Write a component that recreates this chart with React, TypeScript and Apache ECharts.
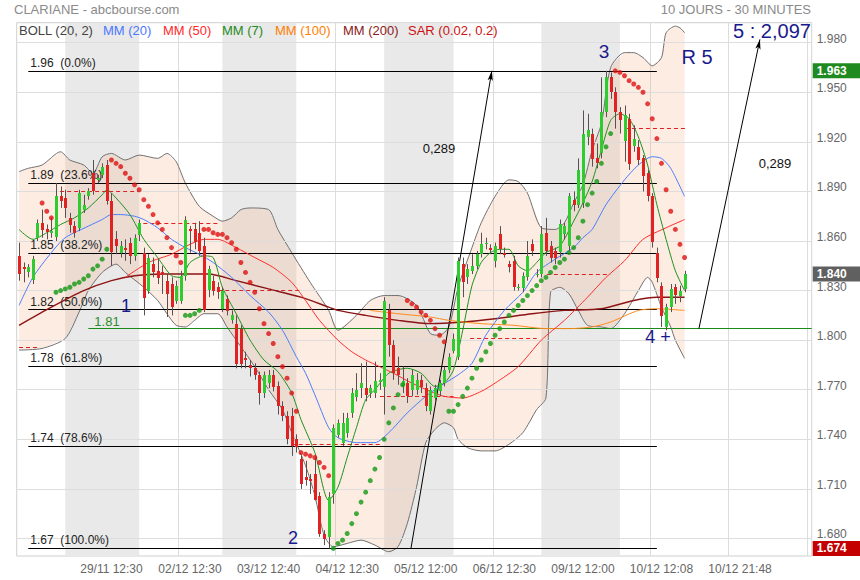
import React, { useEffect, useRef } from 'react';
import * as echarts from 'echarts';

const FONT = '"Liberation Sans", Arial, Helvetica, sans-serif';
const CATEGORY_COUNT = 172;
const Y_MIN = 1.6694;
const Y_MAX = 1.9921;

// x axis ticks
const xTickIndex = [20, 37, 54, 71, 88, 105, 122, 139, 156];
const xTickLabels = ['29/11 12:30', '02/12 12:30', '03/12 12:40', '04/12 12:30', '05/12 12:00', '06/12 12:30', '09/12 12:00', '10/12 12:08', '10/12 21:48'];
const xGridStart = 18;
const xGridStep = 17;
const yTicks = [1.68, 1.71, 1.74, 1.77, 1.8, 1.83, 1.86, 1.89, 1.92, 1.95, 1.98];

// alternate trading days (bar index ranges)
const dayBands = [[10, 26], [44, 60], [79, 94], [113, 130]];

// 30-minute candles: [open, close, low, high]
const ohlc: number[][] = [
  [1.851, 1.840, 1.836, 1.859], [1.844, 1.843, 1.835, 1.847], [1.841, 1.844, 1.838, 1.846], [1.836, 1.849, 1.834, 1.851],
  [1.862, 1.871, 1.860, 1.873], [1.871, 1.867, 1.862, 1.879], [1.867, 1.865, 1.861, 1.870], [1.865, 1.866, 1.862, 1.874],
  [1.862, 1.887, 1.860, 1.895], [1.887, 1.884, 1.880, 1.893], [1.886, 1.880, 1.874, 1.891], [1.874, 1.870, 1.865, 1.877],
  [1.869, 1.865, 1.862, 1.872], [1.868, 1.889, 1.866, 1.891], [1.879, 1.882, 1.877, 1.888], [1.887, 1.890, 1.885, 1.892],
  [1.901, 1.890, 1.888, 1.909], [1.897, 1.898, 1.895, 1.900], [1.900, 1.905, 1.898, 1.907], [1.906, 1.884, 1.882, 1.909],
  [1.884, 1.853, 1.845, 1.889], [1.861, 1.857, 1.852, 1.866], [1.853, 1.857, 1.850, 1.860], [1.856, 1.855, 1.848, 1.861],
  [1.859, 1.851, 1.846, 1.862], [1.851, 1.862, 1.848, 1.864], [1.864, 1.871, 1.860, 1.873], [1.853, 1.826, 1.815, 1.856],
  [1.830, 1.850, 1.828, 1.852], [1.846, 1.841, 1.838, 1.850], [1.842, 1.838, 1.834, 1.849], [1.841, 1.839, 1.828, 1.845],
  [1.836, 1.828, 1.814, 1.840], [1.834, 1.820, 1.815, 1.838], [1.824, 1.833, 1.822, 1.836], [1.824, 1.839, 1.822, 1.842],
  [1.839, 1.873, 1.836, 1.875], [1.867, 1.866, 1.853, 1.869], [1.867, 1.859, 1.855, 1.871], [1.865, 1.854, 1.851, 1.872],
  [1.857, 1.818, 1.817, 1.862], [1.830, 1.843, 1.826, 1.845], [1.836, 1.830, 1.827, 1.839], [1.832, 1.829, 1.825, 1.835],
  [1.819, 1.830, 1.817, 1.832], [1.825, 1.818, 1.815, 1.827], [1.812, 1.815, 1.810, 1.818], [1.810, 1.786, 1.783, 1.815],
  [1.807, 1.786, 1.783, 1.809], [1.789, 1.788, 1.783, 1.793], [1.785, 1.783, 1.778, 1.788], [1.783, 1.779, 1.776, 1.786],
  [1.779, 1.768, 1.761, 1.781], [1.768, 1.779, 1.765, 1.781], [1.774, 1.779, 1.771, 1.782], [1.779, 1.772, 1.769, 1.782],
  [1.772, 1.760, 1.755, 1.775], [1.760, 1.754, 1.751, 1.763], [1.754, 1.740, 1.737, 1.757], [1.754, 1.736, 1.730, 1.759],
  [1.740, 1.735, 1.732, 1.743], [1.728, 1.713, 1.710, 1.730], [1.717, 1.715, 1.712, 1.727], [1.716, 1.715, 1.707, 1.719],
  [1.719, 1.703, 1.703, 1.729], [1.706, 1.683, 1.681, 1.708], [1.683, 1.680, 1.676, 1.685], [1.681, 1.705, 1.674, 1.708],
  [1.707, 1.747, 1.701, 1.749], [1.743, 1.750, 1.741, 1.752], [1.738, 1.750, 1.736, 1.756], [1.744, 1.753, 1.741, 1.756],
  [1.756, 1.768, 1.753, 1.771], [1.766, 1.770, 1.763, 1.780], [1.771, 1.774, 1.765, 1.786], [1.771, 1.767, 1.763, 1.787],
  [1.768, 1.771, 1.765, 1.773], [1.768, 1.775, 1.765, 1.787], [1.775, 1.776, 1.770, 1.780], [1.772, 1.824, 1.755, 1.826],
  [1.818, 1.797, 1.790, 1.822], [1.797, 1.780, 1.776, 1.800], [1.783, 1.779, 1.773, 1.790], [1.772, 1.775, 1.768, 1.784],
  [1.774, 1.766, 1.762, 1.777], [1.770, 1.779, 1.766, 1.782], [1.770, 1.776, 1.767, 1.780], [1.776, 1.772, 1.768, 1.779],
  [1.771, 1.760, 1.757, 1.774], [1.757, 1.770, 1.755, 1.772], [1.765, 1.771, 1.763, 1.773], [1.769, 1.774, 1.766, 1.776],
  [1.774, 1.782, 1.772, 1.784], [1.782, 1.790, 1.780, 1.792], [1.794, 1.801, 1.792, 1.804], [1.790, 1.848, 1.788, 1.850],
  [1.846, 1.835, 1.826, 1.850], [1.838, 1.843, 1.834, 1.846], [1.842, 1.845, 1.840, 1.852], [1.845, 1.852, 1.843, 1.854],
  [1.852, 1.858, 1.850, 1.865], [1.859, 1.859, 1.855, 1.862], [1.856, 1.855, 1.852, 1.858], [1.848, 1.857, 1.844, 1.859],
  [1.864, 1.855, 1.852, 1.869], [1.853, 1.852, 1.850, 1.856], [1.846, 1.844, 1.841, 1.848], [1.848, 1.832, 1.830, 1.851],
  [1.832, 1.832, 1.830, 1.834], [1.832, 1.839, 1.829, 1.841], [1.838, 1.851, 1.836, 1.860], [1.858, 1.854, 1.851, 1.861],
  [1.840, 1.840, 1.838, 1.843], [1.840, 1.864, 1.838, 1.869], [1.865, 1.854, 1.851, 1.874], [1.857, 1.850, 1.847, 1.860],
  [1.854, 1.850, 1.846, 1.856], [1.853, 1.870, 1.850, 1.873], [1.864, 1.869, 1.861, 1.871], [1.857, 1.887, 1.854, 1.889],
  [1.885, 1.882, 1.878, 1.890], [1.882, 1.903, 1.880, 1.910], [1.883, 1.925, 1.880, 1.939], [1.923, 1.927, 1.918, 1.937],
  [1.925, 1.910, 1.905, 1.928], [1.910, 1.907, 1.904, 1.919], [1.913, 1.938, 1.910, 1.959], [1.938, 1.959, 1.935, 1.963],
  [1.959, 1.950, 1.946, 1.962], [1.950, 1.938, 1.928, 1.953], [1.938, 1.933, 1.925, 1.941], [1.920, 1.936, 1.908, 1.942],
  [1.934, 1.907, 1.903, 1.937], [1.918, 1.922, 1.914, 1.930], [1.917, 1.909, 1.906, 1.921], [1.910, 1.899, 1.890, 1.912],
  [1.901, 1.887, 1.884, 1.903], [1.887, 1.859, 1.856, 1.889], [1.853, 1.838, 1.835, 1.856], [1.833, 1.815, 1.808, 1.835],
  [1.808, 1.820, 1.806, 1.822], [1.820, 1.831, 1.817, 1.834], [1.832, 1.827, 1.822, 1.834], [1.827, 1.830, 1.823, 1.833],
  [1.831, 1.840, 1.829, 1.842],
];

// Parabolic SAR, one value per bar (null = not shown)
const sar: (number | null)[] = [
  null, null, null, null, null, 1.883, 1.878, 1.874,
  1.829, 1.830, 1.831, 1.832, 1.834, 1.835, 1.837, 1.839, 1.843, 1.845, 1.849, 1.855,
  1.909, 1.907, 1.905, 1.901, 1.898, 1.894, 1.891, 1.885, 1.881, 1.876, 1.871, 1.867, 1.862, 1.856, 1.851, 1.847,
  1.815, 1.815, 1.816, 1.818,
  1.867, 1.867, 1.865, 1.864, 1.864, 1.862, 1.859, 1.855, 1.847, 1.841, 1.835, 1.829, 1.819, 1.810, 1.804, 1.798,
  1.790, 1.784, 1.777, 1.768, 1.757, 1.732, 1.731, 1.730, 1.729, 1.726, 1.723, 1.718,
  1.674, 1.677, 1.679, 1.683, 1.689, 1.695, 1.702, 1.708, 1.715, 1.722, 1.729, 1.740, 1.750, 1.759, 1.767, 1.773,
  1.824, 1.822, 1.820, 1.817, 1.815, 1.812, 1.807, 1.803, 1.799,
  1.757, 1.757, 1.761, 1.766, 1.771, 1.777, 1.783, 1.788, 1.793, 1.798, 1.803, 1.807, 1.811, 1.815, 1.818, 1.821,
  1.824, 1.827, 1.830, 1.833, 1.836, 1.838, 1.841, 1.844, 1.847, 1.849, 1.853, 1.856, 1.862, 1.872, 1.882, 1.889,
  1.896, 1.907, 1.917, 1.925,
  1.963, 1.962, 1.960, 1.957, 1.955, 1.953, 1.950, 1.943, 1.934, 1.922, 1.907, 1.891, 1.878, 1.867, 1.858, 1.850,
];

// Indicators: [bar index, value]
const bollUpper: number[][] = [
  [0, 1.902], [2, 1.904], [5, 1.906], [9, 1.914], [11, 1.909], [14, 1.906], [16, 1.901], [18, 1.911], [20, 1.913],
  [23, 1.909], [26, 1.912], [30, 1.910], [32, 1.913], [34, 1.908], [36, 1.895], [39, 1.881], [42, 1.875], [44, 1.872],
  [46, 1.874], [48, 1.879], [50, 1.880], [54, 1.879], [56, 1.867], [59, 1.853], [63, 1.835], [67, 1.818], [69, 1.806],
  [73, 1.815], [76, 1.824], [79, 1.827], [82, 1.827], [86, 1.821], [89, 1.804], [91, 1.803], [93, 1.808], [95, 1.832],
  [98, 1.856], [100, 1.871], [103, 1.887], [106, 1.897], [108, 1.896], [110, 1.889], [113, 1.868], [116, 1.867],
  [118, 1.871], [120, 1.883], [122, 1.894], [124, 1.915], [126, 1.931], [128, 1.965], [131, 1.974], [133, 1.974],
  [135, 1.971], [137, 1.966], [139, 1.971], [140, 1.986], [142, 1.990], [143, 1.989], [144, 1.986],
];
const bollLower: number[][] = [
  [0, 1.794], [5, 1.795], [10, 1.801], [13, 1.817], [15, 1.830], [18, 1.841], [21, 1.846], [23, 1.841], [27, 1.832],
  [30, 1.824], [32, 1.816], [34, 1.809], [36, 1.808], [38, 1.812], [40, 1.816], [43, 1.816], [45, 1.808], [48, 1.796],
  [51, 1.784], [54, 1.770], [57, 1.758], [59, 1.744], [62, 1.724], [64, 1.706], [66, 1.682], [68, 1.675], [71, 1.677],
  [74, 1.679], [77, 1.676], [80, 1.672], [82, 1.675], [84, 1.689], [86, 1.711], [88, 1.738], [90, 1.746], [92, 1.750],
  [94, 1.747], [95, 1.740], [97, 1.735], [100, 1.733], [103, 1.733], [106, 1.737], [109, 1.744], [112, 1.758],
  [114, 1.765], [115, 1.829], [117, 1.832], [119, 1.828], [121, 1.818], [123, 1.809], [126, 1.808], [128, 1.807],
  [131, 1.816], [134, 1.830], [136, 1.838], [137, 1.835], [139, 1.820], [141, 1.808], [142, 1.800], [144, 1.789],
];
const mm7: number[][] = [
  [0, 1.867], [3, 1.861], [6, 1.865], [9, 1.870], [12, 1.874], [15, 1.880], [18, 1.888], [19, 1.891], [21, 1.886],
  [24, 1.876], [27, 1.861], [30, 1.850], [33, 1.839], [35, 1.838], [37, 1.847], [40, 1.851], [42, 1.850], [44, 1.832],
  [47, 1.816], [50, 1.800], [53, 1.788], [56, 1.781], [59, 1.768], [61, 1.752], [64, 1.732], [67, 1.703], [69, 1.711],
  [71, 1.729], [73, 1.747], [75, 1.764], [77, 1.770], [80, 1.780], [84, 1.783], [87, 1.780], [90, 1.772], [92, 1.774],
  [94, 1.782], [96, 1.806], [98, 1.833], [100, 1.847], [102, 1.853], [104, 1.855], [106, 1.855], [108, 1.845],
  [110, 1.842], [112, 1.847], [114, 1.853], [117, 1.857], [120, 1.872], [122, 1.883], [124, 1.896], [126, 1.915],
  [128, 1.933], [130, 1.937], [132, 1.934], [134, 1.923], [136, 1.906], [138, 1.882], [140, 1.861], [142, 1.842],
  [144, 1.830],
];
const mm20: number[][] = [
  [0, 1.821], [3, 1.838], [7, 1.853], [10, 1.862], [15, 1.869], [18, 1.873], [20, 1.876], [22, 1.876], [25, 1.875],
  [27, 1.873], [30, 1.868], [33, 1.861], [36, 1.856], [39, 1.852], [42, 1.847], [46, 1.838], [50, 1.827], [54, 1.817],
  [57, 1.806], [60, 1.790], [62, 1.780], [64, 1.767], [67, 1.747], [69, 1.741], [73, 1.738], [77, 1.738], [80, 1.744],
  [84, 1.756], [88, 1.766], [91, 1.772], [95, 1.779], [98, 1.786], [101, 1.803], [105, 1.818], [109, 1.829],
  [112, 1.841], [116, 1.849], [120, 1.856], [122, 1.862], [124, 1.867], [127, 1.882], [131, 1.897], [134, 1.906],
  [137, 1.911], [139, 1.910], [141, 1.904], [144, 1.887],
];
const mm50: number[][] = [
  [23, 1.838], [28, 1.847], [33, 1.852], [37, 1.858], [40, 1.861], [43, 1.861], [47, 1.856], [51, 1.850], [55, 1.844],
  [59, 1.835], [62, 1.824], [65, 1.812], [69, 1.800], [72, 1.793], [75, 1.788], [78, 1.784], [81, 1.780], [85, 1.774],
  [89, 1.769], [92, 1.766], [96, 1.765], [100, 1.769], [103, 1.774], [108, 1.784], [113, 1.800], [118, 1.812],
  [123, 1.826], [127, 1.838], [131, 1.848], [135, 1.861], [140, 1.868], [144, 1.873],
];
const mm100: number[][] = [
  [76, 1.818], [82, 1.816], [89, 1.814], [93, 1.812], [100, 1.810], [107, 1.809], [114, 1.807], [119, 1.807],
  [124, 1.808], [128, 1.811], [134, 1.818], [138, 1.819], [144, 1.818],
];
const mm200: number[][] = [
  [0, 1.809], [7, 1.820], [14, 1.830], [20, 1.836], [25, 1.839], [31, 1.840], [36, 1.840], [41, 1.840], [47, 1.836],
  [54, 1.831], [61, 1.826], [67, 1.820], [69, 1.818], [75, 1.815], [82, 1.812], [89, 1.810], [96, 1.811], [103, 1.813],
  [111, 1.816], [118, 1.818], [126, 1.819], [133, 1.824], [138, 1.826], [144, 1.826],
];

// Fibonacci retracement
const fibLevels = [1.963, 1.8948, 1.8526, 1.8185, 1.7844, 1.7358, 1.674];
const fibLabels = ['1.96  (0.0%)', '1.89  (23.6%)', '1.85  (38.2%)', '1.82  (50.0%)', '1.78  (61.8%)', '1.74  (78.6%)', '1.67  (100.0%)'];
const fibStart = 2;
const fibEnd = 138;

// previous-close dashed segments: [from bar, to bar, value]
const prevClose: number[][] = [
  [0, 4.5, 1.796], [8.9, 25.8, 1.890], [26.9, 43.1, 1.871], [43.1, 60.8, 1.830], [59, 78.1, 1.737],
  [78.1, 94, 1.766], [97.6, 112, 1.801], [114.2, 127.9, 1.840], [131.1, 144.5, 1.928],
];

// support line
const supportValue = 1.807;
const supportLabel = '1.81';
const supportStart = 15;

// projection arrows [x1, v1, x2, v2]
const arrows: number[][] = [
  [84.8, 1.674, 102.3, 1.963],
  [147.1, 1.807, 160.3, 1.982],
];

// price tags on the axis
const priceTagValues = [1.963, 1.84, 1.674];
const priceTagColors = ['#1f8a1f', '#606060', '#c40000'];

const legendItems: [string, string, number][] = [
  ['BOLL (20, 2)', '#444444', 19], ['MM (20)', '#4a78ff', 103], ['MM (50)', '#ff2a2a', 163], ['MM (7)', '#1e8c1e', 222],
  ['MM (100)', '#ff7f00', 275], ['MM (200)', '#8b1a1a', 343], ['SAR (0.02, 0.2)', '#cc1111', 408],
];

const notes: [string, number, number, number][] = [
  ['1', 126, 306, 18], ['2', 293, 538, 18], ['3', 604, 51, 19], ['4 +', 658, 337, 18],
  ['R 5', 697, 57, 20], ['5 : 2,097', 772, 31, 20],
];
const moveNotes: [string, number, number][] = [['0,289', 439, 148], ['0,289', 775, 163]];

function txt(text: string, x: number, y: number, color: string, size: number, align = 'left', weight = 'normal') {
  return {
    type: 'text', x, y, z: 100, silent: true,
    style: {
      text, fill: color, fontSize: size, fontFamily: FONT, fontWeight: weight,
      align, verticalAlign: 'middle', textAlign: align, textVerticalAlign: 'middle',
    },
  };
}

function buildOption() {
  const cats = Array.from({ length: CATEGORY_COUNT }, (_, i) => 'b' + i);
  const tickMap = new Map<number, string>();
  xTickIndex.forEach((idx, k) => tickMap.set(idx, xTickLabels[k]));

  const baseML = { silent: true, symbol: 'none', precision: 3, animation: false, emphasis: { disabled: true } };

  const blank = (extra: any) => ({
    type: 'line', data: [], xAxisIndex: 1, yAxisIndex: 0, silent: true, symbol: 'none', animation: false, ...extra,
  });

  const maLine = (data: number[][], color: string, width: number, z: number) => ({
    type: 'line', xAxisIndex: 1, yAxisIndex: 0, data, symbol: 'none', smooth: 0.25, silent: true,
    lineStyle: { color, width }, z, animation: false,
  });

  const sarData = sar
    .map((v, i) => (v == null ? null : {
      value: [i, v],
      itemStyle: { color: v > ohlc[i][1] ? '#dd1111' : '#139913' },
    }))
    .filter((d) => d != null);

  const tagLabel = (k: number) => ({
    show: true, position: 'end', distance: 1, color: '#ffffff', fontWeight: 'bold', fontSize: 12,
    fontFamily: FONT, lineHeight: 12, padding: [2, 14, 1, 4], backgroundColor: priceTagColors[k],
    formatter: (p: any) => Number(p.value).toFixed(3),
  });

  const graphic: any[] = [
    txt('CLARIANE - abcbourse.com', 14, 9, '#8a8a8a', 13),
    txt('10 JOURS - 30 MINUTES', 811, 9, '#8a8a8a', 13, 'right'),
    ...legendItems.map(([t, c, x]) => txt(t, x, 30, c, 13)),
    ...notes.map(([t, x, y, s]) => txt(t, x, y, '#1a1a8c', s, 'center')),
    ...moveNotes.map(([t, x, y]) => txt(t, x, y, '#111111', 13, 'center')),
  ];

  return {
    animation: false,
    backgroundColor: '#ffffff',
    textStyle: { fontFamily: FONT },
    grid: { left: 16.7, right: 48.3, top: 22.7, bottom: 24, show: true, borderColor: '#cfcfcf', borderWidth: 1 },
    xAxis: [
      {
        type: 'category', data: cats, boundaryGap: true, z: 1,
        axisLine: { show: false }, axisTick: { show: false },
        axisLabel: {
          interval: (idx: number) => tickMap.has(idx),
          formatter: (_v: string, idx: number) => tickMap.get(idx) ?? '',
          color: '#666666', fontSize: 12, margin: 7, fontFamily: FONT,
        },
        splitLine: {
          show: true,
          interval: (idx: number) => idx >= xGridStart && (idx - xGridStart) % xGridStep === 0,
          lineStyle: { color: '#dcdcdc', width: 1 },
        },
      },
      { type: 'value', min: -0.5, max: CATEGORY_COUNT - 0.5, show: false, splitLine: { show: false } },
    ],
    yAxis: {
      type: 'value', min: Y_MIN, max: Y_MAX, position: 'right', scale: true,
      axisLabel: { show: false }, axisLine: { show: false }, axisTick: { show: false }, splitLine: { show: false },
    },
    graphic,
    series: [
      {
        type: 'line', data: [], xAxisIndex: 0, yAxisIndex: 0, z: 0, silent: true, animation: false,
        markArea: {
          silent: true, animation: false, itemStyle: { color: '#e9e9e9' },
          data: dayBands.map(([a, b]) => [{ xAxis: a }, { xAxis: b }]),
        },
      },
      blank({
        z: 1,
        markLine: {
          ...baseML,
          lineStyle: { color: '#dddddd', width: 1, type: 'solid' },
          label: {
            show: true, position: 'end', distance: 5, color: '#666666', fontSize: 12, fontFamily: FONT,
            lineHeight: 12, offset: [0, -4], formatter: (p: any) => Number(p.value).toFixed(3),
          },
          data: yTicks.map((v) => ({ yAxis: v })),
        },
      }),
      {
        type: 'custom', xAxisIndex: 1, yAxisIndex: 0, z: 2, silent: true, animation: false,
        data: [[0, 1.8]], encode: { x: 0, y: 1 },
        renderItem: (params: any, api: any) => {
          if (params.dataIndex !== 0) return null;
          const pts = [
            ...bollUpper.map((p) => api.coord(p)),
            ...bollLower.slice().reverse().map((p) => api.coord(p)),
          ];
          return { type: 'polygon', shape: { points: pts }, style: { fill: 'rgba(245,168,122,0.22)' } };
        },
      },
      maLine(bollUpper, '#707070', 1, 3),
      maLine(bollLower, '#707070', 1, 3),
      blank({
        z: 4,
        markLine: {
          ...baseML,
          lineStyle: { color: '#000000', width: 1, type: 'solid' },
          data: fibLevels.map((v, k) => [
            {
              coord: [fibStart, v],
              label: {
                show: true, position: 'insideStartTop', formatter: fibLabels[k], color: '#222222',
                fontSize: 12, fontFamily: FONT, distance: [2, 2],
              },
            },
            { coord: [fibEnd, v] },
          ]),
        },
      }),
      blank({
        z: 4,
        markLine: {
          ...baseML,
          lineStyle: { color: '#e02020', width: 1, type: [4, 3] },
          label: { show: false },
          data: prevClose.map(([a, b, v]) => [{ coord: [a, v] }, { coord: [b, v] }]),
        },
      }),
      blank({
        z: 4,
        markLine: {
          ...baseML,
          lineStyle: { color: '#1a8a1a', width: 1, type: 'solid' },
          data: [[
            {
              coord: [supportStart, supportValue],
              label: {
                show: true, position: 'insideStartTop', formatter: supportLabel, color: '#2e8b2e',
                fontSize: 13, fontFamily: FONT, distance: [6, 1],
              },
            },
            { coord: [CATEGORY_COUNT - 0.5, supportValue] },
          ]],
        },
      }),
      maLine(mm200, '#8b1414', 1.4, 5),
      maLine(mm100, '#ff8a1a', 1, 5),
      maLine(mm50, '#ff2e2e', 1, 5),
      maLine(mm20, '#4a7dff', 1, 5),
      maLine(mm7, '#1d911d', 1, 5),
      {
        type: 'custom', xAxisIndex: 0, yAxisIndex: 0, z: 6, silent: true, animation: false,
        data: ohlc.map((d, i) => [i, d[0], d[1], d[2], d[3]]),
        encode: { x: 0, y: [1, 2, 3, 4] },
        renderItem: (_params: any, api: any) => {
          const i = api.value(0);
          const o = api.value(1);
          const c = api.value(2);
          const pO = api.coord([i, o]);
          const pC = api.coord([i, c]);
          const pL = api.coord([i, api.value(3)]);
          const pH = api.coord([i, api.value(4)]);
          const xc = Math.round(pO[0]);
          const top = Math.round(Math.min(pO[1], pC[1]));
          const h = Math.max(1, Math.round(Math.abs(pO[1] - pC[1])));
          return {
            type: 'group',
            children: [
              { type: 'line', shape: { x1: xc + 0.5, y1: pH[1], x2: xc + 0.5, y2: pL[1] }, style: { stroke: '#5b4f4f', lineWidth: 1 } },
              { type: 'rect', shape: { x: xc - 1, y: top, width: 3, height: h }, style: { fill: c >= o ? '#2ecc2e' : '#e02222' } },
            ],
          };
        },
      },
      {
        type: 'scatter', xAxisIndex: 0, yAxisIndex: 0, z: 7, silent: true, animation: false,
        symbol: 'circle', symbolSize: 5, data: sarData,
      },
      blank({
        z: 8,
        markLine: {
          ...baseML,
          symbol: ['none', 'arrow'], symbolSize: [4, 10],
          lineStyle: { color: '#000000', width: 1, type: 'solid' },
          label: { show: false },
          data: arrows.map(([x1, v1, x2, v2]) => [{ coord: [x1, v1] }, { coord: [x2, v2] }]),
        },
      }),
      blank({
        z: 9,
        markLine: {
          ...baseML,
          lineStyle: { color: 'rgba(0,0,0,0)', width: 1, type: 'solid' },
          label: tagLabel(0),
          data: priceTagValues.map((v, k) => ({ yAxis: v, label: tagLabel(k) })),
        },
      }),
    ],
  };
}

export default function App() {
  const ref = useRef<HTMLDivElement>(null);
  useEffect(() => {
    document.body.style.margin = '0';
    const chart = echarts.init(ref.current as HTMLDivElement, null, { renderer: 'svg' });
    chart.setOption(buildOption() as any);
    return () => chart.dispose();
  }, []);
  return (
    <div
      ref={ref}
      style={{ position: 'absolute', left: 0, top: 0, width: 860, height: 580, background: '#ffffff' }}
    />
  );
}
